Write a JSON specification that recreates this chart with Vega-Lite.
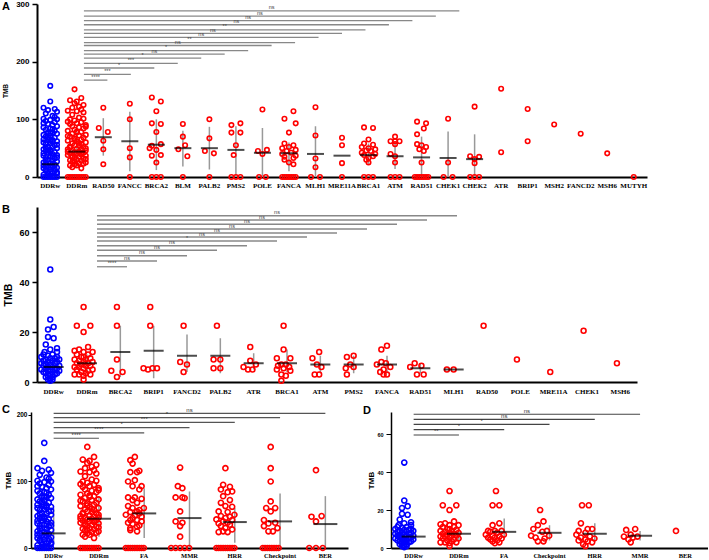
{
"$schema": "https://vega.github.io/schema/vega-lite/v6.json",
"padding": {"left": 2, "top": 0, "right": 0, "bottom": 0},
"config": {"view": {"stroke": null}, "axis": {"grid": false}, "font": "Liberation Sans"},
"datasets": {
"pa": [
{"g":"DDRw","v":158,"c":0},{"g":"DDRw","v":131,"c":0},{"g":"DDRw","v":120,"c":-3},{"g":"DDRw","v":118,"c":2},{"g":"DDRw","v":116,"c":-1},{"g":"DDRw","v":113,"c":3},{"g":"DDRw","v":110,"c":-2},{"g":"DDRw","v":106,"c":1},{"g":"DDRw","v":104,"c":2},{"g":"DDRw","v":101,"c":-3},{"g":"DDRw","v":100,"c":3},{"g":"DDRw","v":99,"c":0},{"g":"DDRw","v":97,"c":-2},{"g":"DDRw","v":95,"c":2},{"g":"DDRw","v":93,"c":-3},{"g":"DDRw","v":92,"c":-1},{"g":"DDRw","v":90,"c":1},{"g":"DDRw","v":88,"c":3},{"g":"DDRw","v":86,"c":-3},{"g":"DDRw","v":84,"c":0},{"g":"DDRw","v":83,"c":1},{"g":"DDRw","v":82,"c":-2},{"g":"DDRw","v":80,"c":2},{"g":"DDRw","v":78,"c":-1},{"g":"DDRw","v":77,"c":1},{"g":"DDRw","v":76,"c":0},{"g":"DDRw","v":75,"c":3},{"g":"DDRw","v":73,"c":-3},{"g":"DDRw","v":72,"c":0},{"g":"DDRw","v":70,"c":-2},{"g":"DDRw","v":69,"c":-1},{"g":"DDRw","v":68,"c":2},{"g":"DDRw","v":66,"c":-1},{"g":"DDRw","v":65,"c":-3},{"g":"DDRw","v":64,"c":1},{"g":"DDRw","v":63,"c":0},{"g":"DDRw","v":62,"c":3},{"g":"DDRw","v":61,"c":1},{"g":"DDRw","v":60,"c":-3},{"g":"DDRw","v":58,"c":0},{"g":"DDRw","v":57,"c":-2},{"g":"DDRw","v":56,"c":3},{"g":"DDRw","v":55,"c":2},{"g":"DDRw","v":53,"c":-1},{"g":"DDRw","v":52,"c":1},{"g":"DDRw","v":51,"c":-2},{"g":"DDRw","v":50,"c":3},{"g":"DDRw","v":48,"c":-3},{"g":"DDRw","v":47,"c":0},{"g":"DDRw","v":46,"c":-1},{"g":"DDRw","v":45,"c":-2},{"g":"DDRw","v":44,"c":0},{"g":"DDRw","v":43,"c":2},{"g":"DDRw","v":42,"c":-1},{"g":"DDRw","v":41,"c":-3},{"g":"DDRw","v":40,"c":1},{"g":"DDRw","v":38,"c":3},{"g":"DDRw","v":37,"c":-3},{"g":"DDRw","v":36,"c":1},{"g":"DDRw","v":35,"c":0},{"g":"DDRw","v":34,"c":3},{"g":"DDRw","v":33,"c":-2},{"g":"DDRw","v":32,"c":2},{"g":"DDRw","v":30,"c":-1},{"g":"DDRw","v":29,"c":-2},{"g":"DDRw","v":28,"c":1},{"g":"DDRw","v":27,"c":3},{"g":"DDRw","v":25,"c":-3},{"g":"DDRw","v":24,"c":0},{"g":"DDRw","v":23,"c":1},{"g":"DDRw","v":22,"c":-2},{"g":"DDRw","v":21,"c":2},{"g":"DDRw","v":20,"c":-3},{"g":"DDRw","v":19,"c":-1},{"g":"DDRw","v":18,"c":1},{"g":"DDRw","v":17,"c":0},{"g":"DDRw","v":16,"c":3},{"g":"DDRw","v":15,"c":-3},{"g":"DDRw","v":14,"c":2},{"g":"DDRw","v":13,"c":0},{"g":"DDRw","v":12,"c":-2},{"g":"DDRw","v":11,"c":-2},{"g":"DDRw","v":10,"c":2},{"g":"DDRw","v":9,"c":-1},{"g":"DDRw","v":8,"c":3},{"g":"DDRw","v":7,"c":1},{"g":"DDRw","v":6,"c":3},{"g":"DDRw","v":5,"c":-1},{"g":"DDRw","v":4,"c":-3},{"g":"DDRw","v":3,"c":0},{"g":"DDRw","v":2,"c":1},{"g":"DDRw","v":0,"c":-3},{"g":"DDRw","v":0,"c":-2},{"g":"DDRw","v":0,"c":-1},{"g":"DDRw","v":0,"c":0},{"g":"DDRw","v":0,"c":1},{"g":"DDRw","v":0,"c":2},{"g":"DDRw","v":0,"c":3},
{"g":"DDRm","v":152,"c":-1},{"g":"DDRm","v":137,"c":2},{"g":"DDRm","v":133,"c":-3},{"g":"DDRm","v":131,"c":0},{"g":"DDRm","v":128,"c":-1},{"g":"DDRm","v":125,"c":3},{"g":"DDRm","v":122,"c":1},{"g":"DDRm","v":120,"c":-2},{"g":"DDRm","v":117,"c":2},{"g":"DDRm","v":115,"c":-4},{"g":"DDRm","v":114,"c":0},{"g":"DDRm","v":112,"c":3},{"g":"DDRm","v":108,"c":-2},{"g":"DDRm","v":103,"c":1},{"g":"DDRm","v":101,"c":3},{"g":"DDRm","v":100,"c":-3},{"g":"DDRm","v":98,"c":-1},{"g":"DDRm","v":96,"c":-4},{"g":"DDRm","v":95,"c":2},{"g":"DDRm","v":93,"c":0},{"g":"DDRm","v":92,"c":-3},{"g":"DDRm","v":90,"c":4},{"g":"DDRm","v":88,"c":-2},{"g":"DDRm","v":87,"c":4},{"g":"DDRm","v":86,"c":1},{"g":"DDRm","v":84,"c":3},{"g":"DDRm","v":82,"c":-1},{"g":"DDRm","v":80,"c":-4},{"g":"DDRm","v":79,"c":0},{"g":"DDRm","v":78,"c":2},{"g":"DDRm","v":77,"c":0},{"g":"DDRm","v":75,"c":-2},{"g":"DDRm","v":73,"c":4},{"g":"DDRm","v":72,"c":1},{"g":"DDRm","v":71,"c":-4},{"g":"DDRm","v":70,"c":-3},{"g":"DDRm","v":68,"c":3},{"g":"DDRm","v":67,"c":-1},{"g":"DDRm","v":65,"c":2},{"g":"DDRm","v":64,"c":-1},{"g":"DDRm","v":63,"c":-4},{"g":"DDRm","v":62,"c":0},{"g":"DDRm","v":60,"c":4},{"g":"DDRm","v":59,"c":1},{"g":"DDRm","v":58,"c":-2},{"g":"DDRm","v":57,"c":2},{"g":"DDRm","v":55,"c":-1},{"g":"DDRm","v":54,"c":1},{"g":"DDRm","v":53,"c":-3},{"g":"DDRm","v":52,"c":3},{"g":"DDRm","v":51,"c":-3},{"g":"DDRm","v":50,"c":4},{"g":"DDRm","v":49,"c":0},{"g":"DDRm","v":48,"c":-4},{"g":"DDRm","v":47,"c":2},{"g":"DDRm","v":46,"c":4},{"g":"DDRm","v":45,"c":-2},{"g":"DDRm","v":44,"c":1},{"g":"DDRm","v":44,"c":-4},{"g":"DDRm","v":43,"c":-1},{"g":"DDRm","v":42,"c":3},{"g":"DDRm","v":41,"c":-3},{"g":"DDRm","v":41,"c":2},{"g":"DDRm","v":40,"c":0},{"g":"DDRm","v":39,"c":2},{"g":"DDRm","v":38,"c":-4},{"g":"DDRm","v":37,"c":4},{"g":"DDRm","v":36,"c":-2},{"g":"DDRm","v":35,"c":1},{"g":"DDRm","v":34,"c":-2},{"g":"DDRm","v":33,"c":-1},{"g":"DDRm","v":32,"c":3},{"g":"DDRm","v":31,"c":4},{"g":"DDRm","v":30,"c":0},{"g":"DDRm","v":29,"c":-3},{"g":"DDRm","v":28,"c":2},{"g":"DDRm","v":27,"c":-1},{"g":"DDRm","v":26,"c":-2},{"g":"DDRm","v":25,"c":4},{"g":"DDRm","v":24,"c":1},{"g":"DDRm","v":23,"c":3},{"g":"DDRm","v":22,"c":-1},{"g":"DDRm","v":20,"c":0},{"g":"DDRm","v":20,"c":-3},{"g":"DDRm","v":17,"c":-2},{"g":"DDRm","v":15,"c":2},{"g":"DDRm","v":0,"c":-4},{"g":"DDRm","v":0,"c":-3},{"g":"DDRm","v":0,"c":-2},{"g":"DDRm","v":0,"c":-1},{"g":"DDRm","v":0,"c":0},{"g":"DDRm","v":0,"c":1},{"g":"DDRm","v":0,"c":2},{"g":"DDRm","v":0,"c":3},{"g":"DDRm","v":0,"c":4},
{"g":"RAD50","v":120,"c":0},{"g":"RAD50","v":85,"c":-2},{"g":"RAD50","v":78,"c":2},{"g":"RAD50","v":63,"c":0},{"g":"RAD50","v":48,"c":0},{"g":"RAD50","v":22,"c":0},
{"g":"FANCC","v":127,"c":0},{"g":"FANCC","v":100,"c":0},{"g":"FANCC","v":50,"c":0},{"g":"FANCC","v":34,"c":0},{"g":"FANCC","v":0,"c":0},
{"g":"BRCA2","v":138,"c":-2},{"g":"BRCA2","v":131,"c":2},{"g":"BRCA2","v":114,"c":0},{"g":"BRCA2","v":93,"c":-2},{"g":"BRCA2","v":92,"c":2},{"g":"BRCA2","v":78,"c":0},{"g":"BRCA2","v":57,"c":2},{"g":"BRCA2","v":54,"c":-2},{"g":"BRCA2","v":50,"c":-3},{"g":"BRCA2","v":47,"c":0},{"g":"BRCA2","v":38,"c":2},{"g":"BRCA2","v":37,"c":-2},{"g":"BRCA2","v":25,"c":0},{"g":"BRCA2","v":0,"c":-2},{"g":"BRCA2","v":0,"c":0},{"g":"BRCA2","v":0,"c":2},
{"g":"BLM","v":92,"c":0},{"g":"BLM","v":70,"c":0},{"g":"BLM","v":55,"c":1},{"g":"BLM","v":48,"c":-2},{"g":"BLM","v":36,"c":2},{"g":"BLM","v":0,"c":0},
{"g":"PALB2","v":100,"c":0},{"g":"PALB2","v":67,"c":0},{"g":"PALB2","v":45,"c":-2},{"g":"PALB2","v":41,"c":2},{"g":"PALB2","v":0,"c":0},
{"g":"PMS2","v":93,"c":2},{"g":"PMS2","v":90,"c":-2},{"g":"PMS2","v":77,"c":-2},{"g":"PMS2","v":77,"c":2},{"g":"PMS2","v":55,"c":0},{"g":"PMS2","v":38,"c":-1},{"g":"PMS2","v":0,"c":-2},{"g":"PMS2","v":0,"c":0},{"g":"PMS2","v":0,"c":2},
{"g":"POLE","v":117,"c":0},{"g":"POLE","v":47,"c":2},{"g":"POLE","v":45,"c":-2},{"g":"POLE","v":40,"c":0},{"g":"POLE","v":0,"c":-1.5},{"g":"POLE","v":0,"c":1.5},
{"g":"FANCA","v":114,"c":2},{"g":"FANCA","v":101,"c":-2},{"g":"FANCA","v":93,"c":3},{"g":"FANCA","v":77,"c":0},{"g":"FANCA","v":58,"c":-2},{"g":"FANCA","v":55,"c":2},{"g":"FANCA","v":52,"c":0},{"g":"FANCA","v":50,"c":-3},{"g":"FANCA","v":47,"c":3},{"g":"FANCA","v":45,"c":-1},{"g":"FANCA","v":42,"c":1},{"g":"FANCA","v":40,"c":-3},{"g":"FANCA","v":37,"c":3},{"g":"FANCA","v":35,"c":-2},{"g":"FANCA","v":33,"c":2},{"g":"FANCA","v":30,"c":-2},{"g":"FANCA","v":25,"c":0},{"g":"FANCA","v":22,"c":2},{"g":"FANCA","v":0,"c":-3},{"g":"FANCA","v":0,"c":-2},{"g":"FANCA","v":0,"c":-1},{"g":"FANCA","v":0,"c":0},{"g":"FANCA","v":0,"c":1},{"g":"FANCA","v":0,"c":2},{"g":"FANCA","v":0,"c":3},
{"g":"MLH1","v":121,"c":0},{"g":"MLH1","v":72,"c":0},{"g":"MLH1","v":32,"c":0},{"g":"MLH1","v":17,"c":0},{"g":"MLH1","v":0,"c":-2},{"g":"MLH1","v":0,"c":2},
{"g":"MRE11A","v":68,"c":0},{"g":"MRE11A","v":55,"c":0},{"g":"MRE11A","v":24,"c":0},{"g":"MRE11A","v":0,"c":0},
{"g":"BRCA1","v":86,"c":-2},{"g":"BRCA1","v":85,"c":2},{"g":"BRCA1","v":65,"c":0},{"g":"BRCA1","v":58,"c":-2},{"g":"BRCA1","v":56,"c":2},{"g":"BRCA1","v":52,"c":-3},{"g":"BRCA1","v":50,"c":0},{"g":"BRCA1","v":48,"c":3},{"g":"BRCA1","v":46,"c":-1},{"g":"BRCA1","v":45,"c":1},{"g":"BRCA1","v":42,"c":-3},{"g":"BRCA1","v":40,"c":3},{"g":"BRCA1","v":38,"c":-2},{"g":"BRCA1","v":36,"c":2},{"g":"BRCA1","v":33,"c":0},{"g":"BRCA1","v":30,"c":-1},{"g":"BRCA1","v":25,"c":0},{"g":"BRCA1","v":0,"c":-2},{"g":"BRCA1","v":0,"c":0},{"g":"BRCA1","v":0,"c":2},
{"g":"ATM","v":70,"c":0},{"g":"ATM","v":62,"c":-2},{"g":"ATM","v":62,"c":0},{"g":"ATM","v":62,"c":2},{"g":"ATM","v":57,"c":0},{"g":"ATM","v":40,"c":-2},{"g":"ATM","v":36,"c":0},{"g":"ATM","v":25,"c":0},{"g":"ATM","v":0,"c":-2},{"g":"ATM","v":0,"c":0},{"g":"ATM","v":0,"c":2},
{"g":"RAD51","v":96,"c":-2},{"g":"RAD51","v":93,"c":2},{"g":"RAD51","v":84,"c":1},{"g":"RAD51","v":74,"c":-2},{"g":"RAD51","v":57,"c":-2},{"g":"RAD51","v":55,"c":0},{"g":"RAD51","v":52,"c":2},{"g":"RAD51","v":48,"c":-1},{"g":"RAD51","v":45,"c":1},{"g":"RAD51","v":25,"c":0},{"g":"RAD51","v":0,"c":-3},{"g":"RAD51","v":0,"c":-2},{"g":"RAD51","v":0,"c":-1},{"g":"RAD51","v":0,"c":0},{"g":"RAD51","v":0,"c":1},{"g":"RAD51","v":0,"c":2},{"g":"RAD51","v":0,"c":3},
{"g":"CHEK1","v":101,"c":0},{"g":"CHEK1","v":25,"c":0},{"g":"CHEK1","v":0,"c":-2},{"g":"CHEK1","v":0,"c":2},
{"g":"CHEK2","v":122,"c":0},{"g":"CHEK2","v":36,"c":-2},{"g":"CHEK2","v":35,"c":2},{"g":"CHEK2","v":31,"c":0},{"g":"CHEK2","v":24,"c":0},{"g":"CHEK2","v":0,"c":-2},{"g":"CHEK2","v":0,"c":0},{"g":"CHEK2","v":0,"c":2},
{"g":"ATR","v":153,"c":0},{"g":"ATR","v":43,"c":0},{"g":"BRIP1","v":118,"c":0},{"g":"BRIP1","v":62,"c":0},{"g":"MSH2","v":91,"c":0},{"g":"FANCD2","v":75,"c":0},{"g":"MSH6","v":41,"c":0},{"g":"MUTYH","v":0,"c":0}
],
"pb": [
{"g":"DDRw","v":45,"c":0},{"g":"DDRw","v":25,"c":0},{"g":"DDRw","v":22,"c":1.5},{"g":"DDRw","v":21,"c":-1},{"g":"DDRw","v":18,"c":-1},{"g":"DDRw","v":17.5,"c":1.5},{"g":"DDRw","v":15,"c":-2},{"g":"DDRw","v":13.5,"c":3},{"g":"DDRw","v":13,"c":0},{"g":"DDRw","v":12,"c":-2.5},{"g":"DDRw","v":12,"c":3},{"g":"DDRw","v":11,"c":-3},{"g":"DDRw","v":11,"c":1},{"g":"DDRw","v":10.5,"c":-1},{"g":"DDRw","v":10,"c":3},{"g":"DDRw","v":10,"c":-4},{"g":"DDRw","v":9.5,"c":0},{"g":"DDRw","v":9.5,"c":2},{"g":"DDRw","v":9,"c":-2},{"g":"DDRw","v":9,"c":4},{"g":"DDRw","v":8.5,"c":-3},{"g":"DDRw","v":8.5,"c":1},{"g":"DDRw","v":8,"c":-1},{"g":"DDRw","v":8,"c":3},{"g":"DDRw","v":7.5,"c":-4},{"g":"DDRw","v":7.5,"c":2},{"g":"DDRw","v":7,"c":0},{"g":"DDRw","v":7,"c":-2},{"g":"DDRw","v":6.5,"c":4},{"g":"DDRw","v":6.5,"c":-3},{"g":"DDRw","v":6,"c":1},{"g":"DDRw","v":6,"c":-1},{"g":"DDRw","v":5.5,"c":3},{"g":"DDRw","v":5.5,"c":-2},{"g":"DDRw","v":5,"c":0},{"g":"DDRw","v":5,"c":2},{"g":"DDRw","v":5,"c":-4},{"g":"DDRw","v":4.5,"c":4},{"g":"DDRw","v":4.5,"c":-1},{"g":"DDRw","v":4,"c":-3},{"g":"DDRw","v":4,"c":1},{"g":"DDRw","v":3.5,"c":3},{"g":"DDRw","v":3.5,"c":-2},{"g":"DDRw","v":3,"c":0},{"g":"DDRw","v":3,"c":2},{"g":"DDRw","v":2.5,"c":-1},{"g":"DDRw","v":2,"c":1},{"g":"DDRw","v":2,"c":-2},{"g":"DDRw","v":1.5,"c":0},{"g":"DDRw","v":1,"c":-1},{"g":"DDRw","v":1,"c":1},{"g":"DDRw","v":0.5,"c":0},
{"g":"DDRm","v":30,"c":0},{"g":"DDRm","v":22.5,"c":-3},{"g":"DDRm","v":22.5,"c":3},{"g":"DDRm","v":20,"c":0},{"g":"DDRm","v":14,"c":2},{"g":"DDRm","v":13,"c":-2},{"g":"DDRm","v":12.5,"c":-4},{"g":"DDRm","v":12,"c":0},{"g":"DDRm","v":12,"c":4},{"g":"DDRm","v":11,"c":-3},{"g":"DDRm","v":11,"c":2},{"g":"DDRm","v":10,"c":0},{"g":"DDRm","v":10,"c":-1},{"g":"DDRm","v":9.5,"c":3},{"g":"DDRm","v":9,"c":-4},{"g":"DDRm","v":9,"c":1},{"g":"DDRm","v":8.5,"c":-2},{"g":"DDRm","v":8,"c":4},{"g":"DDRm","v":8,"c":0},{"g":"DDRm","v":7.5,"c":-3},{"g":"DDRm","v":7.5,"c":2},{"g":"DDRm","v":7,"c":-1},{"g":"DDRm","v":6.5,"c":3},{"g":"DDRm","v":6.5,"c":1},{"g":"DDRm","v":6,"c":-4},{"g":"DDRm","v":6,"c":-2},{"g":"DDRm","v":5.5,"c":0},{"g":"DDRm","v":5,"c":4},{"g":"DDRm","v":5,"c":-3},{"g":"DDRm","v":4.5,"c":2},{"g":"DDRm","v":4,"c":-1},{"g":"DDRm","v":3.5,"c":1},{"g":"DDRm","v":3,"c":-4},{"g":"DDRm","v":3,"c":3},{"g":"DDRm","v":3,"c":-2},{"g":"DDRm","v":2.5,"c":0},{"g":"DDRm","v":1,"c":0},
{"g":"BRCA2","v":30,"c":0},{"g":"BRCA2","v":22.5,"c":0},{"g":"BRCA2","v":9,"c":0},{"g":"BRCA2","v":4.5,"c":-2.5},{"g":"BRCA2","v":4,"c":2.5},{"g":"BRCA2","v":2,"c":0},
{"g":"BRIP1","v":30,"c":0},{"g":"BRIP1","v":22.5,"c":0},{"g":"BRIP1","v":5.5,"c":-3},{"g":"BRIP1","v":5,"c":-1},{"g":"BRIP1","v":5.5,"c":1},{"g":"BRIP1","v":5.5,"c":3},
{"g":"FANCD2","v":22.5,"c":0},{"g":"FANCD2","v":8,"c":-1.5},{"g":"FANCD2","v":7,"c":1.5},{"g":"FANCD2","v":4,"c":0},
{"g":"PALB2","v":22.5,"c":0},{"g":"PALB2","v":9,"c":-1.5},{"g":"PALB2","v":9,"c":1.5},{"g":"PALB2","v":5.5,"c":-1.5},{"g":"PALB2","v":5.5,"c":1.5},
{"g":"ATR","v":14,"c":0},{"g":"ATR","v":8.5,"c":0},{"g":"ATR","v":7,"c":2.5},{"g":"ATR","v":6,"c":-3},{"g":"ATR","v":5,"c":-1},{"g":"ATR","v":5,"c":1},
{"g":"BRCA1","v":22.5,"c":0},{"g":"BRCA1","v":13,"c":0},{"g":"BRCA1","v":9.5,"c":-3},{"g":"BRCA1","v":9.5,"c":3},{"g":"BRCA1","v":7,"c":-1},{"g":"BRCA1","v":7,"c":1},{"g":"BRCA1","v":6.5,"c":-2.5},{"g":"BRCA1","v":6,"c":2.5},{"g":"BRCA1","v":5.5,"c":0},{"g":"BRCA1","v":5,"c":-3},{"g":"BRCA1","v":4.5,"c":3},{"g":"BRCA1","v":3,"c":-1},{"g":"BRCA1","v":2.5,"c":1},{"g":"BRCA1","v":0.5,"c":-1},
{"g":"ATM","v":12,"c":1},{"g":"ATM","v":9.5,"c":-2},{"g":"ATM","v":7,"c":0},{"g":"ATM","v":6,"c":2},{"g":"ATM","v":3,"c":-1},{"g":"ATM","v":3,"c":1},
{"g":"PMS2","v":10,"c":-1.5},{"g":"PMS2","v":10.5,"c":1.5},{"g":"PMS2","v":7,"c":0},{"g":"PMS2","v":6,"c":1.5},{"g":"PMS2","v":5.5,"c":-2},{"g":"PMS2","v":3,"c":-1.5},
{"g":"FANCA","v":14.5,"c":1.5},{"g":"FANCA","v":13,"c":-1},{"g":"FANCA","v":8,"c":-1},{"g":"FANCA","v":7.5,"c":1},{"g":"FANCA","v":7,"c":-3},{"g":"FANCA","v":6,"c":3},{"g":"FANCA","v":5,"c":0},{"g":"FANCA","v":4,"c":-1.5},{"g":"FANCA","v":3,"c":0},{"g":"FANCA","v":3,"c":1.5},
{"g":"RAD51","v":7.5,"c":-1},{"g":"RAD51","v":6.5,"c":2},{"g":"RAD51","v":6,"c":-3},{"g":"RAD51","v":3,"c":0},{"g":"RAD51","v":3,"c":3},
{"g":"MLH1","v":5,"c":-1.5},{"g":"MLH1","v":5,"c":1.5},
{"g":"RAD50","v":22.5,"c":0},{"g":"POLE","v":9,"c":0},{"g":"MRE11A","v":4,"c":0},{"g":"CHEK1","v":20.5,"c":0},{"g":"MSH6","v":7.5,"c":0}
],
"pc": [
{"g":"FA","v":137,"c":0},{"g":"FA","v":132,"c":-2},{"g":"FA","v":127,"c":-1},{"g":"FA","v":116,"c":2},{"g":"FA","v":114,"c":-2},{"g":"FA","v":114,"c":1},{"g":"FA","v":102,"c":0},{"g":"FA","v":100,"c":-3},{"g":"FA","v":93,"c":-1},{"g":"FA","v":93,"c":3},{"g":"FA","v":88,"c":2},{"g":"FA","v":76,"c":-3},{"g":"FA","v":76,"c":0},{"g":"FA","v":74,"c":3},{"g":"FA","v":72,"c":-1},{"g":"FA","v":68,"c":1},{"g":"FA","v":63,"c":-3},{"g":"FA","v":60,"c":4},{"g":"FA","v":60,"c":-1},{"g":"FA","v":57,"c":2},{"g":"FA","v":55,"c":1},{"g":"FA","v":54,"c":-2},{"g":"FA","v":52,"c":2},{"g":"FA","v":50,"c":-4},{"g":"FA","v":49,"c":0},{"g":"FA","v":47,"c":3},{"g":"FA","v":45,"c":-1},{"g":"FA","v":42,"c":-2},{"g":"FA","v":42,"c":1},{"g":"FA","v":40,"c":3},{"g":"FA","v":38,"c":-3},{"g":"FA","v":36,"c":-1},{"g":"FA","v":34,"c":2},{"g":"FA","v":32,"c":1},{"g":"FA","v":30,"c":-2},{"g":"FA","v":27,"c":-2},{"g":"FA","v":25,"c":1},{"g":"FA","v":0,"c":-4},{"g":"FA","v":0,"c":-3},{"g":"FA","v":0,"c":-2},{"g":"FA","v":0,"c":-1},{"g":"FA","v":0,"c":0},{"g":"FA","v":0,"c":1},{"g":"FA","v":0,"c":2},{"g":"FA","v":0,"c":3},{"g":"FA","v":0,"c":4},
{"g":"MMR","v":121,"c":0},{"g":"MMR","v":93,"c":-1},{"g":"MMR","v":90,"c":1},{"g":"MMR","v":76,"c":-2},{"g":"MMR","v":76,"c":1},{"g":"MMR","v":75,"c":2},{"g":"MMR","v":55,"c":0},{"g":"MMR","v":40,"c":-2},{"g":"MMR","v":38,"c":1},{"g":"MMR","v":33,"c":0},{"g":"MMR","v":17,"c":0},{"g":"MMR","v":0,"c":-4},{"g":"MMR","v":0,"c":-2},{"g":"MMR","v":0,"c":0},{"g":"MMR","v":0,"c":2},{"g":"MMR","v":0,"c":4},
{"g":"HRR","v":120,"c":0},{"g":"HRR","v":95,"c":-1},{"g":"HRR","v":92,"c":2},{"g":"HRR","v":88,"c":-2},{"g":"HRR","v":85,"c":3},{"g":"HRR","v":84,"c":1},{"g":"HRR","v":78,"c":-1},{"g":"HRR","v":72,"c":2},{"g":"HRR","v":68,"c":-2},{"g":"HRR","v":63,"c":0},{"g":"HRR","v":62,"c":3},{"g":"HRR","v":55,"c":-3},{"g":"HRR","v":54,"c":1},{"g":"HRR","v":50,"c":4},{"g":"HRR","v":48,"c":-2},{"g":"HRR","v":47,"c":2},{"g":"HRR","v":45,"c":0},{"g":"HRR","v":43,"c":-4},{"g":"HRR","v":42,"c":3},{"g":"HRR","v":40,"c":-1},{"g":"HRR","v":38,"c":1},{"g":"HRR","v":37,"c":-3},{"g":"HRR","v":35,"c":2},{"g":"HRR","v":33,"c":-2},{"g":"HRR","v":30,"c":0},{"g":"HRR","v":28,"c":3},{"g":"HRR","v":25,"c":-1},{"g":"HRR","v":24,"c":1},{"g":"HRR","v":24,"c":-3},{"g":"HRR","v":0,"c":-4},{"g":"HRR","v":0,"c":-3},{"g":"HRR","v":0,"c":-2},{"g":"HRR","v":0,"c":-1},{"g":"HRR","v":0,"c":0},{"g":"HRR","v":0,"c":1},{"g":"HRR","v":0,"c":2},{"g":"HRR","v":0,"c":3},{"g":"HRR","v":0,"c":4},
{"g":"Checkpoint","v":152,"c":0},{"g":"Checkpoint","v":120,"c":0},{"g":"Checkpoint","v":100,"c":0},{"g":"Checkpoint","v":70,"c":0},{"g":"Checkpoint","v":60,"c":-2},{"g":"Checkpoint","v":60,"c":2},{"g":"Checkpoint","v":55,"c":0},{"g":"Checkpoint","v":42,"c":-3},{"g":"Checkpoint","v":38,"c":2},{"g":"Checkpoint","v":37,"c":-1},{"g":"Checkpoint","v":33,"c":-3},{"g":"Checkpoint","v":30,"c":3},{"g":"Checkpoint","v":25,"c":-1},{"g":"Checkpoint","v":25,"c":1},{"g":"Checkpoint","v":0,"c":-3.5},{"g":"Checkpoint","v":0,"c":-2.5},{"g":"Checkpoint","v":0,"c":-1.5},{"g":"Checkpoint","v":0,"c":-0.5},{"g":"Checkpoint","v":0,"c":0.5},{"g":"Checkpoint","v":0,"c":1.5},{"g":"Checkpoint","v":0,"c":2.5},{"g":"Checkpoint","v":0,"c":3.5},
{"g":"BER","v":117,"c":0},{"g":"BER","v":48,"c":2.5},{"g":"BER","v":47,"c":-2},{"g":"BER","v":40,"c":0},{"g":"BER","v":0,"c":-3},{"g":"BER","v":0,"c":0},{"g":"BER","v":0,"c":3}
],
"pd": [
{"g":"FA","v":30,"c":0.5},{"g":"FA","v":22.5,"c":-1},{"g":"FA","v":22.5,"c":2},{"g":"FA","v":13,"c":2},{"g":"FA","v":12,"c":-1},{"g":"FA","v":9,"c":-3},{"g":"FA","v":9,"c":3},{"g":"FA","v":9,"c":0},{"g":"FA","v":8.5,"c":-2},{"g":"FA","v":8,"c":1},{"g":"FA","v":7,"c":-4},{"g":"FA","v":7,"c":4},{"g":"FA","v":6.5,"c":-1},{"g":"FA","v":6,"c":2},{"g":"FA","v":5.5,"c":-3},{"g":"FA","v":5.5,"c":0},{"g":"FA","v":5,"c":3},{"g":"FA","v":4.5,"c":-2},{"g":"FA","v":4,"c":1},{"g":"FA","v":3.5,"c":-1},{"g":"FA","v":3,"c":2},{"g":"FA","v":2.5,"c":0},
{"g":"Checkpoint","v":20,"c":0},{"g":"Checkpoint","v":14,"c":1.5},{"g":"Checkpoint","v":12,"c":-1},{"g":"Checkpoint","v":10,"c":-3},{"g":"Checkpoint","v":9,"c":3},{"g":"Checkpoint","v":8.5,"c":1},{"g":"Checkpoint","v":6.5,"c":-4},{"g":"Checkpoint","v":6.5,"c":4},{"g":"Checkpoint","v":5.5,"c":-2},{"g":"Checkpoint","v":5,"c":2},{"g":"Checkpoint","v":3.5,"c":-1},{"g":"Checkpoint","v":3.5,"c":1.5},
{"g":"HRR","v":22.5,"c":-1.5},{"g":"HRR","v":22.5,"c":1.5},{"g":"HRR","v":13,"c":-2},{"g":"HRR","v":10,"c":1},{"g":"HRR","v":10,"c":3},{"g":"HRR","v":9,"c":-3},{"g":"HRR","v":8,"c":0},{"g":"HRR","v":7,"c":-4},{"g":"HRR","v":6,"c":2},{"g":"HRR","v":5.5,"c":-2},{"g":"HRR","v":5,"c":4},{"g":"HRR","v":4.5,"c":0},{"g":"HRR","v":4,"c":-3},{"g":"HRR","v":3.5,"c":1},{"g":"HRR","v":3,"c":3},{"g":"HRR","v":2,"c":-1},{"g":"HRR","v":1,"c":0},
{"g":"MMR","v":10,"c":2},{"g":"MMR","v":9.5,"c":-2},{"g":"MMR","v":7,"c":0},{"g":"MMR","v":6,"c":-3},{"g":"MMR","v":6,"c":3},{"g":"MMR","v":5.5,"c":1},{"g":"MMR","v":4.5,"c":-1},{"g":"MMR","v":3,"c":0},
{"g":"BER","v":9,"c":0}
],
"sa": [
{"g":"DDRw","v":22,"lo":6,"hi":60},{"g":"DDRm","v":44,"lo":17,"hi":78},{"g":"RAD50","v":69,"lo":37,"hi":102},{"g":"FANCC","v":62,"lo":10,"hi":113},{"g":"BRCA2","v":56,"lo":12,"hi":100},{"g":"BLM","v":50,"lo":18,"hi":80},{"g":"PALB2","v":50,"lo":13,"hi":87},{"g":"PMS2","v":47,"lo":0,"hi":88},{"g":"POLE","v":42,"lo":0,"hi":85},{"g":"FANCA","v":41,"lo":10,"hi":60},{"g":"MLH1","v":40,"lo":0,"hi":88},{"g":"MRE11A","v":37},{"g":"BRCA1","v":38,"lo":22,"hi":58},{"g":"ATM","v":36,"lo":14,"hi":58},{"g":"RAD51","v":34,"lo":0,"hi":70},{"g":"CHEK1","v":33,"lo":0,"hi":79},{"g":"CHEK2","v":31,"lo":0,"hi":74}
],
"sb": [
{"g":"DDRw","v":6,"lo":3,"hi":9},{"g":"DDRm","v":7.5,"lo":4,"hi":11},{"g":"BRCA2","v":12,"lo":2,"hi":22.5},{"g":"BRIP1","v":12.5,"lo":1.5,"hi":22.5},{"g":"FANCD2","v":10.5,"lo":4,"hi":19},{"g":"PALB2","v":10.5,"lo":3.5,"hi":17.5},{"g":"ATR","v":7.5,"lo":5,"hi":11.5},{"g":"BRCA1","v":7.5,"lo":4,"hi":13},{"g":"ATM","v":7,"lo":3.5,"hi":10.5},{"g":"PMS2","v":7,"lo":3.5,"hi":10.5},{"g":"FANCA","v":7,"lo":3.5,"hi":10.5},{"g":"RAD51","v":5.5,"lo":3.5,"hi":7.5},{"g":"MLH1","v":5}
],
"sc": [
{"g":"DDRw","v":22,"lo":6,"hi":60},{"g":"DDRm","v":44,"lo":17,"hi":78},{"g":"FA","v":52,"lo":15,"hi":90},{"g":"MMR","v":45,"lo":0,"hi":85},{"g":"HRR","v":39,"lo":8,"hi":60},{"g":"Checkpoint","v":40,"lo":0,"hi":82},{"g":"BER","v":36,"lo":0,"hi":78}
],
"sd": [
{"g":"DDRw","v":6,"lo":3,"hi":10},{"g":"DDRm","v":7.5,"lo":4,"hi":11},{"g":"FA","v":8.5,"lo":5,"hi":15.5},{"g":"Checkpoint","v":8,"lo":4,"hi":12},{"g":"HRR","v":7.5,"lo":4,"hi":13},{"g":"MMR","v":6.5,"lo":4,"hi":9}
],
"ka": [
{"t":"DDRm","k":1,"v":168,"s":"****"},{"t":"RAD50","k":2,"v":178,"s":"***"},{"t":"FANCC","k":3,"v":189,"s":"*"},{"t":"BRCA2","k":4,"v":197,"s":"***"},{"t":"BLM","k":5,"v":206,"s":"*"},{"t":"PALB2","k":6,"v":213,"s":"ns"},{"t":"PMS2","k":7,"v":219,"s":"*"},{"t":"POLE","k":8,"v":228,"s":"ns"},{"t":"FANCA","k":9,"v":233,"s":"**"},{"t":"MLH1","k":10,"v":242,"s":"ns"},{"t":"MRE11A","k":11,"v":249,"s":"ns"},{"t":"BRCA1","k":12,"v":255,"s":"**"},{"t":"ATM","k":13,"v":264,"s":"ns"},{"t":"RAD51","k":14,"v":271,"s":"ns"},{"t":"CHEK1","k":15,"v":279,"s":"ns"},{"t":"CHEK2","k":16,"v":288,"s":"ns"}
],
"kb": [
{"t":"DDRm","k":1,"v":46.1,"s":"****"},{"t":"BRCA2","k":2,"v":48.4,"s":"ns"},{"t":"BRIP1","k":3,"v":50.5,"s":"ns"},{"t":"FANCD2","k":4,"v":52.7,"s":"ns"},{"t":"PALB2","k":5,"v":54.5,"s":"ns"},{"t":"ATR","k":6,"v":56.4,"s":"*"},{"t":"BRCA1","k":7,"v":58,"s":"ns"},{"t":"ATM","k":8,"v":59.6,"s":"ns"},{"t":"PMS2","k":9,"v":61.2,"s":"ns"},{"t":"FANCA","k":10,"v":63.1,"s":"ns"},{"t":"RAD51","k":11,"v":64.8,"s":"ns"},{"t":"MLH1","k":12,"v":66.5,"s":"ns"}
],
"kc": [
{"t":"DDRm","k":1,"v":165,"s":"****"},{"t":"FA","k":2,"v":173,"s":"****"},{"t":"MMR","k":3,"v":181,"s":"*"},{"t":"HRR","k":4,"v":189,"s":"***"},{"t":"Checkpoint","k":5,"v":196,"s":"*"},{"t":"BER","k":6,"v":202.5,"s":"ns"}
],
"kd": [
{"t":"DDRm","k":1,"v":59.5,"s":"**"},{"t":"FA","k":2,"v":62.3,"s":"*"},{"t":"Checkpoint","k":3,"v":65.1,"s":"*"},{"t":"HRR","k":4,"v":67.7,"s":"ns"},{"t":"MMR","k":5,"v":70.4,"s":"ns"}
]
},
"vconcat": [
{
"width": 610, "height": 173,
"title": {"text": "A", "anchor": "start", "frame": "group", "dx": -35, "dy": 12, "offset": 0, "fontSize": 11, "fontWeight": "bold", "font": "Liberation Sans", "color": "black"},
"resolve": {"scale": {"x": "independent"}, "axis": {"x": "independent"}},
"layer": [
{
"encoding": {
"x": {"field": "g", "type": "nominal", "scale": {"domain": ["DDRw","DDRm","RAD50","FANCC","BRCA2","BLM","PALB2","PMS2","POLE","FANCA","MLH1","MRE11A","BRCA1","ATM","RAD51","CHEK1","CHEK2","ATR","BRIP1","MSH2","FANCD2","MSH6","MUTYH"], "paddingInner": 0, "paddingOuter": 0},
 "axis": {"title": null, "labelAngle": 0, "ticks": false, "labelFont": "Liberation Serif", "labelFontSize": 7, "labelFontWeight": "bold", "labelColor": "black", "labelPadding": 4, "domainColor": "black", "domainWidth": 2}},
"y": {"field": "v", "type": "quantitative", "scale": {"domain": [0, 300]},
 "axis": {"title": "TMB", "values": [0, 100, 200, 300], "domainColor": "black", "domainWidth": 2, "tickColor": "black", "tickWidth": 1.5, "tickSize": 5, "labelFont": "Liberation Sans", "labelFontSize": 8, "labelFontWeight": "bold", "labelColor": "black", "labelPadding": 3, "titleFont": "Liberation Sans", "titleFontSize": 6.5, "titleFontWeight": "bold", "titleColor": "black", "titlePadding": 7}}
},
"layer": [
{"data": {"name": "sa"}, "mark": {"type": "rule", "color": "#999999", "strokeWidth": 1.5}, "encoding": {"y": {"field": "lo", "type": "quantitative"}, "y2": {"field": "hi"}}},
{"data": {"name": "pa"}, "mark": {"type": "point", "shape": "circle", "filled": false, "size": 20, "strokeWidth": 1.6, "opacity": 1},
 "encoding": {"xOffset": {"field": "c", "type": "quantitative", "scale": {"domain": [-4, 4], "range": [4.26, 22.26]}},
  "color": {"condition": {"test": "datum.g === 'DDRw'", "value": "#0000ff"}, "value": "#ff0000"}}},
{"data": {"name": "sa"}, "mark": {"type": "tick", "color": "black", "size": 17, "thickness": 2}}
]
},
{
"data": {"name": "ka"},
"transform": [{"calculate": "datum.k / 2", "as": "m"}, {"calculate": "0", "as": "z"}],
"encoding": {"y": {"field": "v", "type": "quantitative"}},
"layer": [
{"mark": {"type": "rule", "color": "#888888", "strokeWidth": 1.3}, "encoding": {"x": {"field": "z", "type": "quantitative", "scale": {"domain": [-0.5, 22.5]}, "axis": null}, "x2": {"field": "k"}}},
{"mark": {"type": "text", "fontSize": 5.5, "color": "#444444", "baseline": "bottom", "dy": -0.5}, "encoding": {"x": {"field": "m", "type": "quantitative", "axis": null}, "text": {"field": "s"}}}
]
}
]
},
{
"width": 600, "height": 175,
"title": {"text": "B", "anchor": "start", "frame": "group", "dx": -35, "dy": 8, "offset": 0, "fontSize": 11, "fontWeight": "bold", "font": "Liberation Sans", "color": "black"},
"resolve": {"scale": {"x": "independent"}, "axis": {"x": "independent"}},
"layer": [
{
"encoding": {
"x": {"field": "g", "type": "nominal", "scale": {"domain": ["DDRw","DDRm","BRCA2","BRIP1","FANCD2","PALB2","ATR","BRCA1","ATM","PMS2","FANCA","RAD51","MLH1","RAD50","POLE","MRE11A","CHEK1","MSH6"], "paddingInner": 0, "paddingOuter": 0},
 "axis": {"title": null, "labelAngle": 0, "ticks": false, "labelFont": "Liberation Serif", "labelFontSize": 7, "labelFontWeight": "bold", "labelColor": "black", "labelPadding": 5.5, "domainColor": "black", "domainWidth": 2}},
"y": {"field": "v", "type": "quantitative", "scale": {"domain": [0, 70]},
 "axis": {"title": "TMB", "values": [0, 20, 40, 60], "domainColor": "black", "domainWidth": 2, "tickColor": "black", "tickWidth": 1.5, "tickSize": 5, "labelFont": "Liberation Sans", "labelFontSize": 9, "labelFontWeight": "bold", "labelColor": "black", "labelPadding": 3, "titleFont": "Liberation Sans", "titleFontSize": 10.5, "titleFontWeight": "bold", "titleColor": "black", "titlePadding": 5}}
},
"layer": [
{"data": {"name": "sb"}, "mark": {"type": "rule", "color": "#999999", "strokeWidth": 1.5}, "encoding": {"y": {"field": "lo", "type": "quantitative"}, "y2": {"field": "hi"}}},
{"data": {"name": "pb"}, "mark": {"type": "point", "shape": "circle", "filled": false, "size": 24, "strokeWidth": 1.6, "opacity": 1},
 "encoding": {"xOffset": {"field": "c", "type": "quantitative", "scale": {"domain": [-4, 4], "range": [6.67, 26.67]}},
  "color": {"condition": {"test": "datum.g === 'DDRw'", "value": "#0000ff"}, "value": "#ff0000"}}},
{"data": {"name": "sb"}, "mark": {"type": "tick", "color": "black", "size": 20, "thickness": 2}}
]
},
{
"data": {"name": "kb"},
"transform": [{"calculate": "datum.k / 2", "as": "m"}, {"calculate": "0", "as": "z"}],
"encoding": {"y": {"field": "v", "type": "quantitative"}},
"layer": [
{"mark": {"type": "rule", "color": "#888888", "strokeWidth": 1.3}, "encoding": {"x": {"field": "z", "type": "quantitative", "scale": {"domain": [-0.5, 17.5]}, "axis": null}, "x2": {"field": "k"}}},
{"mark": {"type": "text", "fontSize": 5.5, "color": "#444444", "baseline": "bottom", "dy": -0.5}, "encoding": {"x": {"field": "m", "type": "quantitative", "axis": null}, "text": {"field": "s"}}}
]
}
]
},
{
"hconcat": [
{
"width": 317, "height": 136,
"title": {"text": "C", "anchor": "start", "frame": "group", "dx": -35, "dy": 8, "offset": 0, "fontSize": 11, "fontWeight": "bold", "font": "Liberation Sans", "color": "black"},
"resolve": {"scale": {"x": "independent"}, "axis": {"x": "independent"}},
"layer": [
{
"encoding": {
"x": {"field": "g", "type": "nominal", "scale": {"domain": ["DDRw","DDRm","FA","MMR","HRR","Checkpoint","BER"], "paddingInner": 0, "paddingOuter": 0, "range": [-6, 311]},
 "axis": {"title": null, "labelAngle": 0, "ticks": false, "labelFont": "Liberation Serif", "labelFontSize": 6.5, "labelFontWeight": "bold", "labelColor": "black", "labelPadding": 4, "domainColor": "black", "domainWidth": 2}},
"y": {"field": "v", "type": "quantitative", "scale": {"domain": [0, 204.5], "nice": false},
 "axis": {"title": "TMB", "offset": 6, "values": [0, 50, 100, 150, 200], "domainColor": "black", "domainWidth": 1.5, "tickColor": "black", "tickWidth": 1, "tickSize": 3, "labelFont": "Liberation Sans", "labelFontSize": 6.5, "labelFontWeight": "bold", "labelColor": "black", "labelPadding": 1, "titleFont": "Liberation Sans", "titleFontSize": 8, "titleFontWeight": "bold", "titleColor": "black", "titlePadding": 4}}
},
"layer": [
{"data": {"name": "sc"}, "mark": {"type": "rule", "color": "#999999", "strokeWidth": 1.5}, "encoding": {"y": {"field": "lo", "type": "quantitative"}, "y2": {"field": "hi"}}},
{"data": {"name": "pa"}, "transform": [{"filter": "datum.g === 'DDRw' || datum.g === 'DDRm'"}], "mark": {"type": "point", "shape": "circle", "filled": false, "size": 26, "strokeWidth": 1.6, "opacity": 1},
 "encoding": {"xOffset": {"field": "c", "type": "quantitative", "scale": {"domain": [-4, 4], "range": [10.64, 34.64]}},
  "color": {"condition": {"test": "datum.g === 'DDRw'", "value": "#0000ff"}, "value": "#ff0000"}}},
{"data": {"name": "pc"}, "mark": {"type": "point", "shape": "circle", "filled": false, "size": 26, "strokeWidth": 1.6, "opacity": 1, "color": "#ff0000"},
 "encoding": {"xOffset": {"field": "c", "type": "quantitative", "scale": {"domain": [-4, 4], "range": [10.64, 34.64]}}}},
{"data": {"name": "sc"}, "mark": {"type": "tick", "color": "black", "size": 24, "thickness": 2}}
]
},
{
"data": {"name": "kc"},
"transform": [{"calculate": "datum.k / 2", "as": "m"}, {"calculate": "0", "as": "z"}],
"encoding": {"y": {"field": "v", "type": "quantitative"}},
"layer": [
{"mark": {"type": "rule", "color": "#555555", "strokeWidth": 1.2}, "encoding": {"x": {"field": "z", "type": "quantitative", "scale": {"domain": [-0.5, 6.5], "range": [-6, 311]}, "axis": null}, "x2": {"field": "k"}}},
{"mark": {"type": "text", "fontSize": 6, "color": "#333333", "baseline": "bottom", "dy": -0.5}, "encoding": {"x": {"field": "m", "type": "quantitative", "axis": null}, "text": {"field": "s"}}}
]
}
]
},
{
"width": 317, "height": 136,
"title": {"text": "D", "anchor": "start", "frame": "group", "dx": -28, "dy": 8, "offset": 0, "fontSize": 11, "fontWeight": "bold", "font": "Liberation Sans", "color": "black"},
"resolve": {"scale": {"x": "independent"}, "axis": {"x": "independent"}},
"layer": [
{
"encoding": {
"x": {"field": "g", "type": "nominal", "scale": {"domain": ["DDRw","DDRm","FA","Checkpoint","HRR","MMR","BER"], "paddingInner": 0, "paddingOuter": 0},
 "axis": {"title": null, "labelAngle": 0, "ticks": false, "labelFont": "Liberation Serif", "labelFontSize": 6.5, "labelFontWeight": "bold", "labelColor": "black", "labelPadding": 4, "domainColor": "black", "domainWidth": 2}},
"y": {"field": "v", "type": "quantitative", "scale": {"domain": [0, 71.6], "nice": false},
 "axis": {"title": "TMB", "values": [0, 20, 40, 60], "domainColor": "black", "domainWidth": 1.5, "tickColor": "black", "tickWidth": 1, "tickSize": 5, "labelFont": "Liberation Sans", "labelFontSize": 5.5, "labelFontWeight": "bold", "labelColor": "black", "labelPadding": 3, "titleFont": "Liberation Sans", "titleFontSize": 8, "titleFontWeight": "bold", "titleColor": "black", "titlePadding": 1}}
},
"layer": [
{"data": {"name": "sd"}, "mark": {"type": "rule", "color": "#999999", "strokeWidth": 1.5}, "encoding": {"y": {"field": "lo", "type": "quantitative"}, "y2": {"field": "hi"}}},
{"data": {"name": "pb"}, "transform": [{"filter": "datum.g === 'DDRw' || datum.g === 'DDRm'"}], "mark": {"type": "point", "shape": "circle", "filled": false, "size": 26, "strokeWidth": 1.6, "opacity": 1},
 "encoding": {"xOffset": {"field": "c", "type": "quantitative", "scale": {"domain": [-4, 4], "range": [10.64, 34.64]}},
  "color": {"condition": {"test": "datum.g === 'DDRw'", "value": "#0000ff"}, "value": "#ff0000"}}},
{"data": {"name": "pd"}, "mark": {"type": "point", "shape": "circle", "filled": false, "size": 26, "strokeWidth": 1.6, "opacity": 1, "color": "#ff0000"},
 "encoding": {"xOffset": {"field": "c", "type": "quantitative", "scale": {"domain": [-4, 4], "range": [10.64, 34.64]}}}},
{"data": {"name": "sd"}, "mark": {"type": "tick", "color": "black", "size": 24, "thickness": 2}}
]
},
{
"data": {"name": "kd"},
"transform": [{"calculate": "datum.k / 2", "as": "m"}, {"calculate": "0", "as": "z"}],
"encoding": {"y": {"field": "v", "type": "quantitative"}},
"layer": [
{"mark": {"type": "rule", "color": "#444444", "strokeWidth": 1.1}, "encoding": {"x": {"field": "z", "type": "quantitative", "scale": {"domain": [-0.5, 6.5]}, "axis": null}, "x2": {"field": "k"}}},
{"mark": {"type": "text", "fontSize": 6, "color": "#333333", "baseline": "bottom", "dy": -0.5}, "encoding": {"x": {"field": "m", "type": "quantitative", "axis": null}, "text": {"field": "s"}}}
]
}
]
}
],
"spacing": 37, "bounds": "flush"
}
],
"spacing": 30, "bounds": "flush"
}
